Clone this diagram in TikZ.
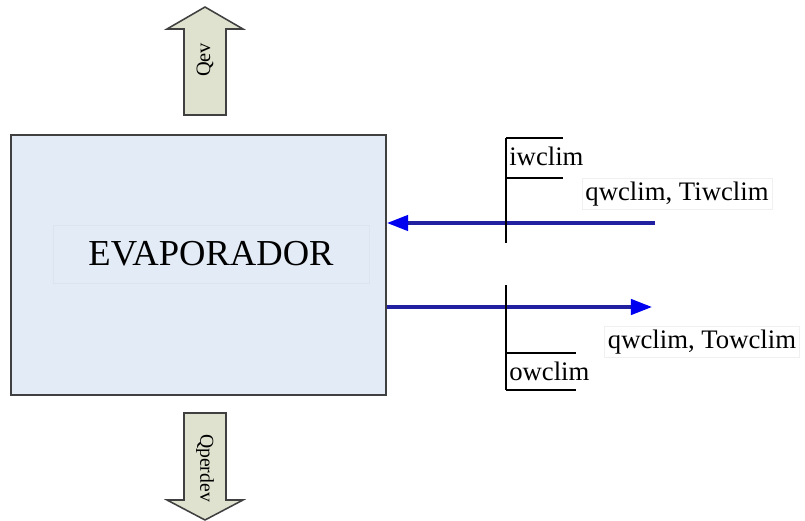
\documentclass[tikz,border=0pt]{standalone}
\usepackage{fontspec}
\setmainfont{Liberation Serif}
\usetikzlibrary{arrows.meta, positioning, shapes}
\definecolor{cajaazul}{RGB}{227,235,246}
\definecolor{flecha}{RGB}{223,226,207}
\definecolor{lineaazul}{RGB}{32,32,160}
\definecolor{puntaazul}{RGB}{0,0,240}
\definecolor{borde}{RGB}{64,64,64}

\begin{document}
\begin{tikzpicture}[x=0.025cm, y=-0.025cm]
    \tikzstyle{block} = [rectangle, draw=borde, line width=1.4pt, fill=cajaazul, minimum width=9.375cm, minimum height=6.5cm]
    \tikzstyle{etiqueta} = [draw=black!6, line width=0.4pt, inner sep=2.5pt, font=\fontsize{19}{22}\selectfont]
    \tikzstyle{puerto} = [draw=black, line width=0.9pt]
    \tikzstyle{gruesa} = [draw=borde, line width=1.1pt, fill=flecha]
    \tikzstyle{line} = [draw=lineaazul, line width=2.2pt, -{Triangle[length=15pt, width=11pt, color=puntaazul]}]
    \useasboundingbox (0,0) rectangle (805,521);

    % bloque principal
    \node[block] (evap) at (198.5,265) {};
    \node[draw=cajaazul!97!black, minimum width=7.9cm, minimum height=1.45cm, font=\fontsize{26}{30}\selectfont] (evaplabel) at (211,254) {EVAPORADOR};

    % flechas de calor
    \path[gruesa] (184,115) -- (184,29) -- (167,29) -- (205,7) -- (243,29) -- (226,29) -- (226,115) -- cycle;
    \node[rotate=90, font=\fontsize{14.5}{16}\selectfont] (qev) at (205,60) {Qev};
    \path[gruesa] (184,413) -- (184,500) -- (167,500) -- (205,520) -- (243,500) -- (226,500) -- (226,413) -- cycle;
    \node[rotate=-90, font=\fontsize{14}{16}\selectfont] (qperdev) at (205,468) {Qperdev};

    % entrada y salida del agua
    \coordinate (iwin) at (655,223);
    \coordinate (owout) at (652,307);
    \path[line] (iwin) -- (evap.east |- iwin);
    \path[line] (evap.east |- owout) -- (owout);

    % marcas de los puertos
    \draw[puerto] (506,138) -- (506,243);
    \draw[puerto] (506,138) -- (563,138) (506,178) -- (563,178);
    \node[anchor=west, inner sep=0pt, font=\fontsize{19}{22}\selectfont] (iwclim) at (509,156) {iwclim};
    \draw[puerto] (506,285) -- (506,390);
    \draw[puerto] (506,353) -- (576,353) (506,390) -- (576,390);
    \node[anchor=west, inner sep=0pt, font=\fontsize{19}{22}\selectfont] (owclim) at (509,371) {owclim};

    % datos de las corrientes
    \node[etiqueta] (iwdatos) at (677,194) {qwclim, Tiwclim};
    \node[etiqueta] (owdatos) at (702,342) {qwclim, Towclim};
\end{tikzpicture}
\end{document}
